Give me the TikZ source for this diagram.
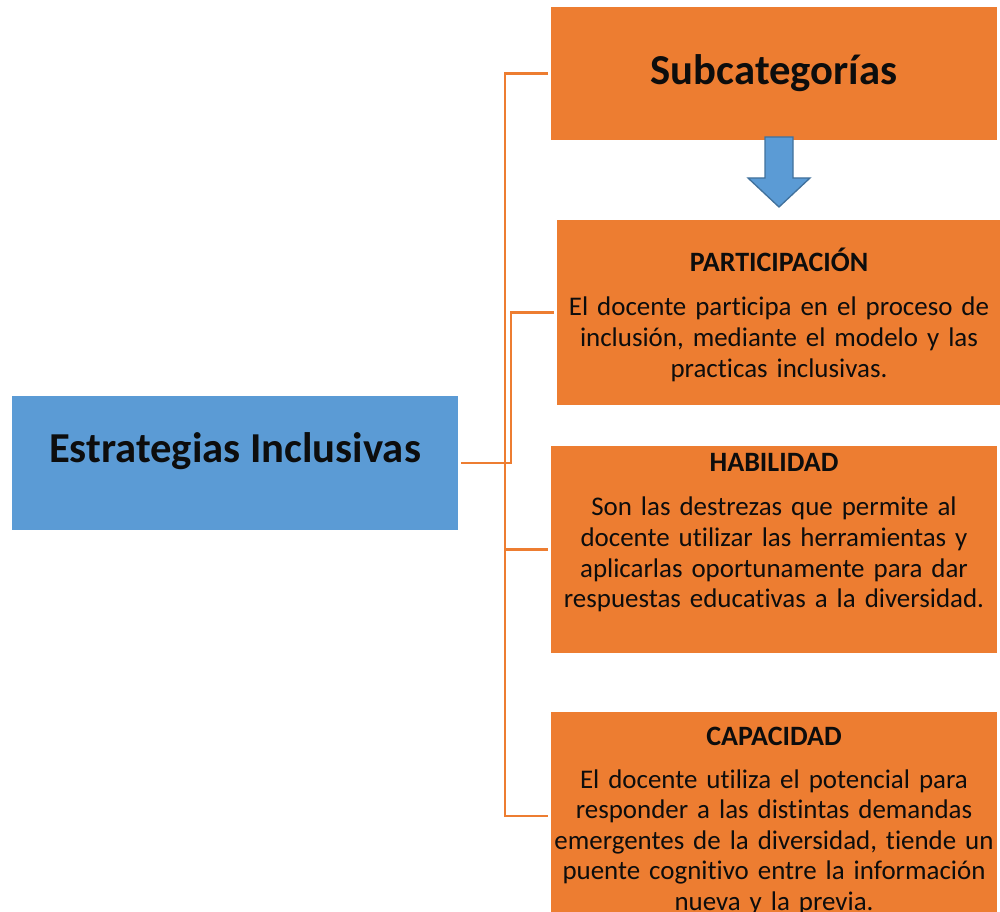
\documentclass[tikz,border=0pt]{standalone}
\usepackage{fontspec}
\setmainfont{Carlito}[Ligatures=NoCommon]
\definecolor{org}{HTML}{ED7D31}
\definecolor{blu}{HTML}{5B9BD5}
\definecolor{blud}{HTML}{41719C}
\definecolor{ink}{HTML}{0D0D0D}
\begin{document}
\begin{tikzpicture}[x=0.75pt,y=-0.75pt,
  box/.style={rectangle, draw=none, inner sep=0pt, outer sep=0pt},
  obox/.style={box, fill=org},
  conn/.style={draw=org, line width=1.8pt},
  big/.style={font=\fontsize{32}{36}\selectfont\bfseries, text=ink, inner sep=0pt, anchor=base},
  head/.style={font=\fontsize{21}{23}\selectfont\bfseries, text=ink, inner sep=0pt, anchor=base},
  body/.style={font=\fontsize{20.2}{22.9}\selectfont, text=ink, inner sep=0pt, anchor=base, align=center, text width=360pt}]
\useasboundingbox (0,0) rectangle (1000,912);

% boxes
\node[obox, minimum width=334.5pt, minimum height=99.75pt] (sub) at (774,73.5) {};
\node[obox, minimum width=332.25pt, minimum height=138.75pt] (par) at (778.5,312.5) {};
\node[obox, minimum width=334.5pt, minimum height=155.25pt] (hab) at (774,549.5) {};
\node[obox, minimum width=334.5pt, minimum height=156pt] (cap) at (774,816) {};
\node[box, fill=blu, minimum width=334.5pt, minimum height=100.5pt] (est) at (235,463) {};

% texts
\node[big] (tsub) at (774,85) {Subcategorías};
\node[big] (test) at (235,463) {Estrategias Inclusivas};

\node[head] (hpar) at (779,272) {PARTICIPACIÓN};
\node[body] (bpar) at (779,316) {El docente participa en el proceso de\\inclusión, mediante el modelo y las\\practicas inclusivas.};

\node[head] (hhab) at (774,472) {HABILIDAD};
\node[body] (bhab) at (774,516) {Son las destrezas que permite al\\docente utilizar las herramientas y\\aplicarlas oportunamente para dar\\respuestas educativas a la diversidad.};

\node[head] (hcap) at (774,745) {CAPACIDAD};
\node[body] (bcap) at (774,788) {El docente utiliza el potencial para\\responder a las distintas demandas\\emergentes de la diversidad, tiende un\\puente cognitivo entre la información\\nueva y la previa.};

% block arrow
\draw[fill=blu, draw=blud, line width=1pt, line join=miter]
  (765,137) -- (793,137) -- (793,178) -- (810,178) -- (779,207) -- (748,178) -- (765,178) -- cycle;

% connectors
\coordinate (tr) at (505,0);
\coordinate (tr2) at (511,0);
\draw[conn] ([xshift=-2.25pt]sub.west) -- (sub.west -| tr) -- (cap.west -| tr) -- ([xshift=-2.25pt]cap.west);
\draw[conn] ([xshift=2.25pt]est.east) -- (est.east -| tr);
\draw[conn] (hab.west -| tr) -- ([xshift=-2.25pt]hab.west);
\draw[conn] ([xshift=2.25pt]est.east) -- (est.east -| tr2) -- (par.west -| tr2) -- ([xshift=-2.25pt]par.west);
\end{tikzpicture}
\end{document}
